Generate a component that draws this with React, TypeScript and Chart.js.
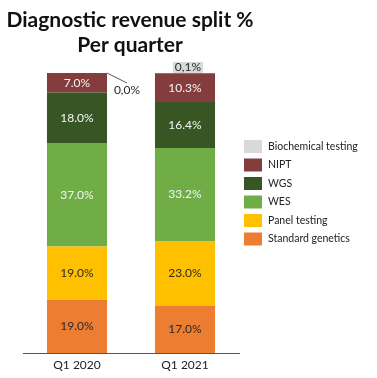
import React, { useEffect, useRef } from "react";
import { Chart, registerables } from "chart.js";

Chart.register(...registerables);

const categories = ["Q1 2020", "Q1 2021"];
const seriesNames = ["Standard genetics", "Panel testing", "WES", "WGS", "NIPT", "Biochemical testing"];
const standardGenetics = [19.0, 17.0];
const panelTesting = [19.0, 23.0];
const wes = [37.0, 33.2];
const wgs = [18.0, 16.4];
const nipt = [7.0, 10.3];
const biochemical = [0.0, 0.1];
const seriesColors = ["#ED7D31", "#FFC000", "#70AD47", "#375623", "#843C3C", "#D9D9D9"];
const labelColors = ["#2a2a2a", "#2a2a2a", "#F4F4F4", "#F4F4F4", "#F4F4F4", "#2a2a2a"];
const titleLines = ["Diagnostic revenue split %", "Per quarter"];

const FONT = "Lato, 'Open Sans', sans-serif";

const overlayPlugin = {
  id: "overlay",
  afterDatasetsDraw(chart: any) {
    const ctx = chart.ctx;
    ctx.save();
    // Title
    ctx.fillStyle = "#111";
    ctx.font = `bold 21px ${FONT}`;
    ctx.textAlign = "center";
    ctx.textBaseline = "middle";
    ctx.fillText(titleLines[0], 130, 20);
    ctx.fillText(titleLines[1], 130, 45);

    // value labels
    ctx.font = `12px ${FONT}`;
    chart.data.datasets.forEach((ds: any, di: number) => {
      const meta = chart.getDatasetMeta(di);
      meta.data.forEach((bar: any, i: number) => {
        const v = ds.data[i];
        if (di === 5) return;
        const y = (bar.y + bar.base) / 2;
        ctx.fillStyle = labelColors[di];
        ctx.fillText(v.toFixed(1) + "%", bar.x, y);
      });
    });

    // Biochemical labels
    const bmeta = chart.getDatasetMeta(5);
    const b0 = bmeta.data[0];
    const b1 = bmeta.data[1];
    const w0 = b0.width / 2;
    ctx.strokeStyle = "#555";
    ctx.lineWidth = 1;
    ctx.beginPath();
    ctx.moveTo(b0.x + w0, b0.y);
    ctx.lineTo(b0.x + w0 + 20, b0.y + 10);
    ctx.stroke();
    ctx.fillStyle = "#2a2a2a";
    ctx.fillText(biochemical[0].toFixed(1).replace(".", ",") + "%", b0.x + w0 + 20, b0.y + 17);

    const t1 = biochemical[1].toFixed(1).replace(".", ",") + "%";
    const tw = ctx.measureText(t1).width;
    const cx = b1.x + 3;
    const cy = b1.y - 6;
    ctx.fillStyle = "#D9D9D9";
    ctx.fillRect(cx - tw / 2 - 2, cy - 5, tw + 4, 11);
    ctx.fillStyle = "#2a2a2a";
    ctx.fillText(t1, cx, cy);

    // Legend
    ctx.textAlign = "left";
    ctx.font = `10.5px ${FONT}`;
    const order = [5, 4, 3, 2, 1, 0];
    order.forEach((di, k) => {
      const y = 140 + k * 18.5;
      ctx.fillStyle = seriesColors[di];
      ctx.fillRect(244, y, 18, 13);
      ctx.fillStyle = "#222";
      ctx.fillText(seriesNames[di], 268, y + 6.5);
    });
    ctx.restore();
  },
};

export default function App() {
  const ref = useRef<HTMLCanvasElement>(null);
  useEffect(() => {
    const allData = [standardGenetics, panelTesting, wes, wgs, nipt, biochemical];
    const chart = new Chart(ref.current!, {
      type: "bar",
      data: {
        labels: categories,
        datasets: allData.map((d, i) => ({
          label: seriesNames[i],
          data: d,
          backgroundColor: seriesColors[i],
          borderWidth: 0,
          categoryPercentage: 1,
          barPercentage: 0.556,
        })),
      },
      options: {
        responsive: false,
        animation: false,
        layout: { padding: { left: 23, right: 138, top: 73, bottom: 0 } },
        plugins: { legend: { display: false }, title: { display: false }, tooltip: { enabled: false } },
        scales: {
          x: {
            stacked: true,
            grid: { display: false, drawTicks: false },
            border: { display: true, color: "#555", width: 1 },
            ticks: { padding: 5, color: "#222", font: { family: FONT, size: 12 } },
            afterFit: (scale: any) => {
              scale.height = 25;
            },
          },
          y: { stacked: true, display: false, min: 0, max: 100 },
        },
      },
      plugins: [overlayPlugin],
    });
    return () => chart.destroy();
  }, []);
  return (
    <div style={{ position: "absolute", left: 0, top: 0, width: 377, height: 378, background: "#fff" }}>
      <canvas ref={ref} width={377} height={378} style={{ width: 377, height: 378 }} />
    </div>
  );
}
